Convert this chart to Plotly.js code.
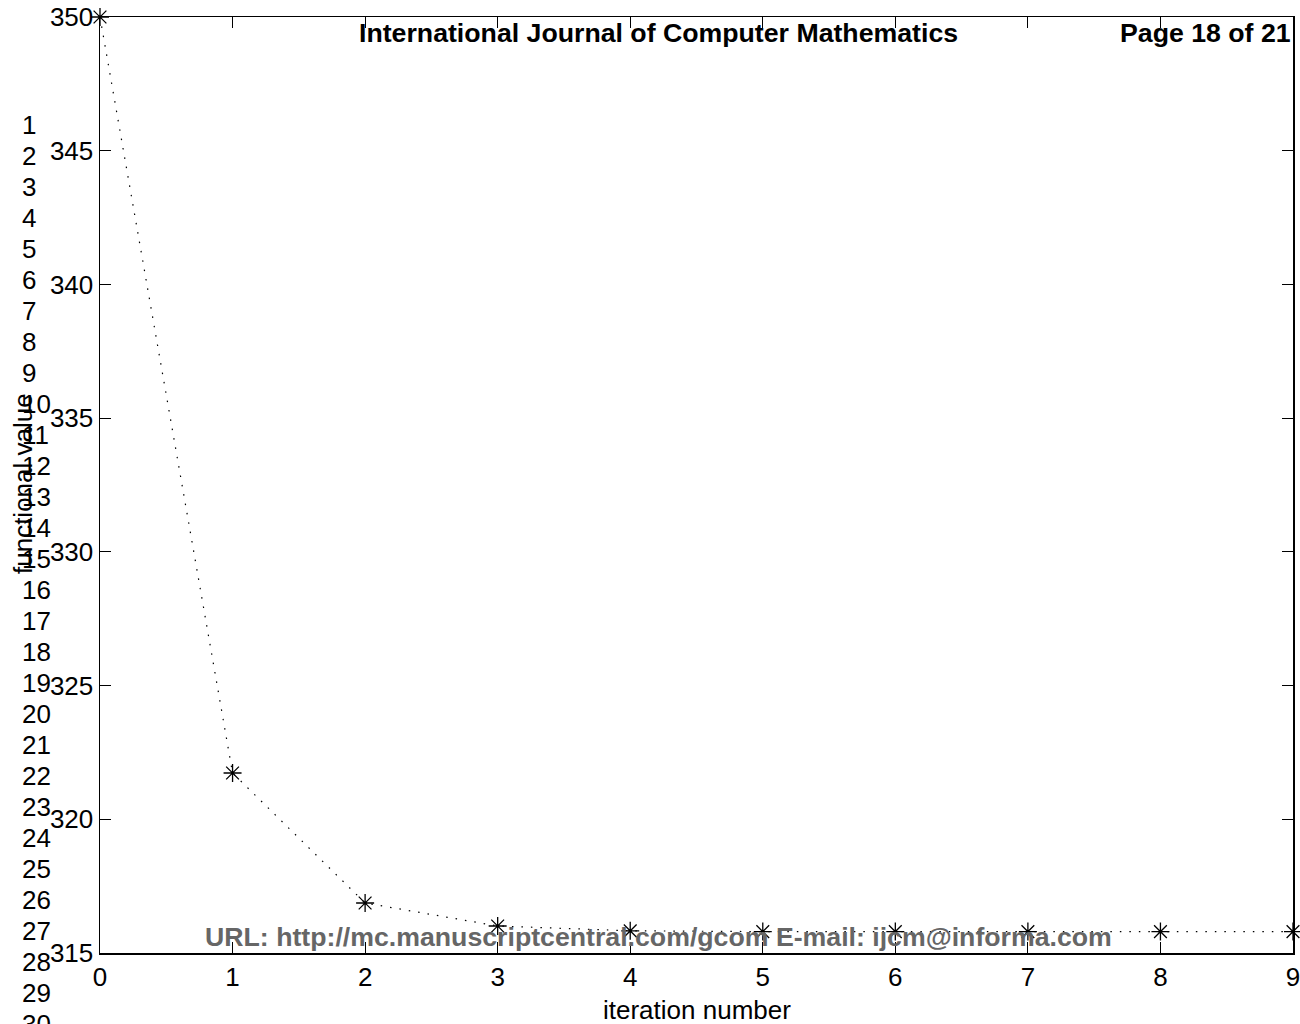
<!DOCTYPE html>
<html>
<head>
<meta charset="utf-8">
<script src="https://cdn.plot.ly/plotly-3.0.1.min.js"></script>
<style>html,body{margin:0;padding:0;background:#fff;}#chart{width:1300px;height:1024px;}</style>
</head>
<body>
<div id="chart"></div>
<script>
// Data
const iterations = [0, 1, 2, 3, 4, 5, 6, 7, 8, 9];
const functionalValues = [350.0, 321.73, 316.87, 316.01, 315.83, 315.8, 315.8, 315.8, 315.8, 315.8];
const xTickValues = [0, 1, 2, 3, 4, 5, 6, 7, 8, 9];
const yTickValues = [315, 320, 325, 330, 335, 340, 345, 350];
const lineNumbers = [1,2,3,4,5,6,7,8,9,10,11,12,13,14,15,16,17,18,19,20,21,22,23,24,25,26,27,28,29,30];
const headerTitle = 'International Journal of Computer Mathematics';
const headerPage = 'Page 18 of 21';
const footerText = 'URL: http://mc.manuscriptcentral.com/gcom E-mail: ijcm@informa.com';
const xTitle = 'iteration number';
const yTitle = 'functional value';

const FONT = 'Liberation Sans, Arial, Helvetica, sans-serif';
const W = 1300, H = 1024;
const M = {l: 100, r: 7, t: 17, b: 71};
const PW = W - M.l - M.r, PH = H - M.t - M.b;
const px2x = px => (px - M.l) / PW;
const py2y = py => (H - M.b - py) / PH;

const annotations = [];
annotations.push({text: headerTitle, xref: 'paper', yref: 'paper', x: px2x(658), y: py2y(33),
  xanchor: 'center', yanchor: 'middle', showarrow: false, font: {family: FONT, size: 26.7, color: '#000', weight: 'bold'}});
annotations.push({text: headerPage, xref: 'paper', yref: 'paper', x: 1, y: py2y(33),
  xanchor: 'right', yanchor: 'middle', showarrow: false, font: {family: FONT, size: 26.7, color: '#000', weight: 'bold'}});
annotations.push({text: footerText, xref: 'paper', yref: 'paper', x: px2x(658), y: py2y(937),
  xanchor: 'center', yanchor: 'middle', showarrow: false, font: {family: FONT, size: 26.7, color: '#666666', weight: 'bold'}});
annotations.push({text: xTitle, xref: 'paper', yref: 'paper', x: 0.5, y: py2y(1010),
  xanchor: 'center', yanchor: 'middle', showarrow: false, font: {family: FONT, size: 26, color: '#000'}});
annotations.push({text: yTitle, xref: 'paper', yref: 'paper', x: px2x(23), y: py2y(484), textangle: -90,
  xanchor: 'center', yanchor: 'middle', showarrow: false, font: {family: FONT, size: 26, color: '#000'}});
lineNumbers.forEach((n, i) => {
  annotations.push({text: String(n), xref: 'paper', yref: 'paper', x: px2x(20), y: py2y(125 + 31 * i),
    xanchor: 'left', yanchor: 'middle', showarrow: false, font: {family: FONT, size: 26, color: '#000'}});
});

const trace = {
  x: iterations, y: functionalValues, type: 'scatter', mode: 'lines+markers',
  line: {color: '#000', width: 1.2, dash: '1.5px,8px'},
  marker: {symbol: 'asterisk-open', size: 15, color: '#000', line: {color: '#000', width: 1.3}},
  cliponaxis: false, hoverinfo: 'skip'
};

const axisCommon = {
  showgrid: false, zeroline: false, showline: true, linecolor: '#000', linewidth: 1.5,
  mirror: 'ticks', ticks: 'inside', ticklen: 11, tickwidth: 1.2, tickcolor: '#000',
  tickfont: {family: FONT, size: 26, color: '#000'}, fixedrange: true, automargin: false,
  ticklabeloverflow: 'allow'
};

const layout = {
  width: W, height: H, margin: M, paper_bgcolor: '#fff', plot_bgcolor: '#fff', showlegend: false,
  xaxis: Object.assign({}, axisCommon, {range: [0, 9], tickmode: 'array', tickvals: xTickValues,
    ticktext: xTickValues.map(String)}),
  yaxis: Object.assign({}, axisCommon, {range: [315, 350], tickmode: 'array', tickvals: yTickValues,
    ticktext: yTickValues.map(String)}),
  annotations: annotations
};

Plotly.newPlot('chart', [trace], layout, {displayModeBar: false, staticPlot: true});
</script>
</body>
</html>
